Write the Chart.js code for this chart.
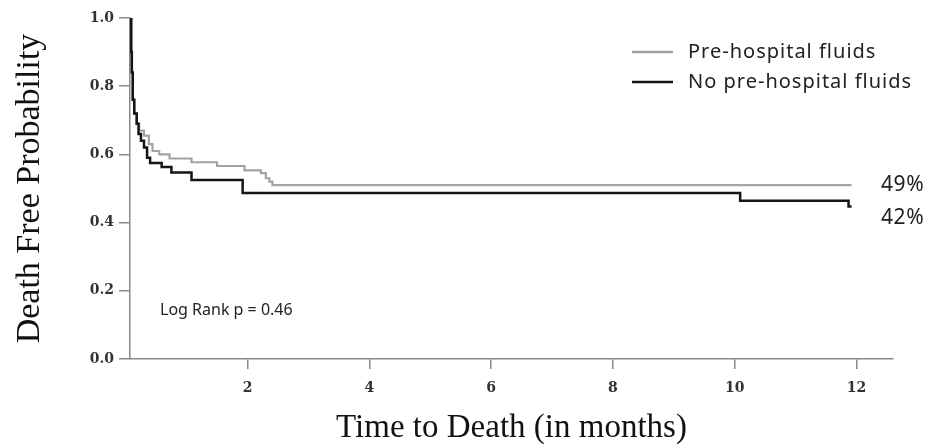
<!DOCTYPE html>
<html>
<head>
<meta charset="utf-8">
<script src="https://cdn.jsdelivr.net/npm/chart.js@4.4.1/dist/chart.umd.min.js"></script>
<style>
  html, body { margin: 0; padding: 0; background: #fff; }
  #wrap { width: 928px; height: 448px; }
</style>
</head>
<body>
<div id="wrap"><canvas id="kmChart" width="928" height="448"></canvas></div>
<script>
// --- DATA ---
const seriesLabels = ['Pre-hospital fluids', 'No pre-hospital fluids'];

// months / survival, step points
const fluidsMonths = [0.07, 0.09, 0.10, 0.115, 0.14, 0.18, 0.22, 0.30, 0.38, 0.44, 0.55, 0.72, 1.08, 1.50, 1.95, 2.22, 2.30, 2.36, 2.41, 11.92];
const fluidsSurv   = [1.00, 0.90, 0.84, 0.76, 0.72, 0.69, 0.67, 0.655, 0.63, 0.61, 0.60, 0.588, 0.577, 0.566, 0.553, 0.545, 0.53, 0.52, 0.51, 0.51];

const noFluidsMonths = [0.07, 0.09, 0.10, 0.115, 0.14, 0.18, 0.21, 0.25, 0.30, 0.35, 0.40, 0.59, 0.75, 1.08, 1.92, 10.09, 11.87, 11.92];
const noFluidsSurv   = [1.00, 0.90, 0.84, 0.76, 0.72, 0.69, 0.66, 0.64, 0.62, 0.59, 0.575, 0.563, 0.547, 0.525, 0.487, 0.464, 0.447, 0.447];

const xTicks = [2, 4, 6, 8, 10, 12];
const yTicks = [0, 0.2, 0.4, 0.6, 0.8, 1.0];
const endLabels = ['49%', '42%'];
const statText = 'Log Rank p = 0.46';

const toPoints = (xs, ys) => xs.map((x, i) => ({ x: x, y: ys[i] }));

// --- legend + annotations drawn on top ---
const extrasPlugin = {
    id: 'extras',
    afterDraw(chart) {
        const ctx = chart.ctx;
        ctx.save();
        ctx.textBaseline = 'middle';
        ctx.textAlign = 'left';
        ctx.fillStyle = '#222';

        // legend (line samples, no boxes)
        ctx.font = '20px "Noto Sans"';
        ctx.letterSpacing = '1px';
        const legendRows = [
            { label: seriesLabels[0], color: '#a3a3a3', y: 52 },
            { label: seriesLabels[1], color: '#151515', y: 82 }
        ];
        legendRows.forEach(r => {
            ctx.strokeStyle = r.color;
            ctx.lineWidth = 2.5;
            ctx.beginPath();
            ctx.moveTo(632, r.y);
            ctx.lineTo(673, r.y);
            ctx.stroke();
            ctx.fillText(r.label, 688, r.y);
        });

        // end-of-curve percentages
        ctx.letterSpacing = '0.6px';
        ctx.font = '21px "Noto Sans"';
        ctx.fillText(endLabels[0], 881, 185);
        ctx.fillText(endLabels[1], 881, 218);

        // test statistic
        ctx.letterSpacing = '0px';
        ctx.font = '16px "Noto Sans"';
        ctx.fillText(statText, 160, 310);
        ctx.restore();
    }
};

const kmCtx = document.getElementById('kmChart').getContext('2d');
new Chart(kmCtx, {
    type: 'line',
    data: {
        datasets: [{
            label: seriesLabels[1],
            data: toPoints(noFluidsMonths, noFluidsSurv),
            borderColor: '#151515',
            borderWidth: 2.5,
            pointRadius: 0,
            stepped: 'before',
            fill: false
        }, {
            label: seriesLabels[0],
            data: toPoints(fluidsMonths, fluidsSurv),
            borderColor: '#a3a3a3',
            borderWidth: 2.2,
            pointRadius: 0,
            stepped: 'before',
            fill: false
        }]
    },
    options: {
        responsive: false,
        animation: false,
        layout: { padding: { top: 18, right: 35, bottom: 0, left: 0 } },
        plugins: {
            legend: { display: false },
            tooltip: { enabled: false }
        },
        scales: {
            x: {
                type: 'linear',
                min: 0.07,
                max: 12.6,
                afterBuildTicks: s => { s.ticks = xTicks.map(v => ({ value: v })); },
                afterFit: s => { s.height = 89; },
                grid: { drawOnChartArea: false, drawTicks: true, tickLength: 10, color: '#8a8a8a', lineWidth: 1.5 },
                border: { display: true, color: '#8a8a8a', width: 1.5 },
                ticks: { color: '#333', padding: 11, font: { family: '"DejaVu Serif"', size: 14, weight: 'bold' } },
                title: {
                    display: true,
                    text: 'Time to Death (in months)',
                    color: '#111',
                    padding: { top: 0, bottom: 0 },
                    font: { family: '"Liberation Serif"', size: 33 }
                }
            },
            y: {
                min: 0,
                max: 1.0,
                afterBuildTicks: s => { s.ticks = yTicks.map(v => ({ value: v })); },
                afterFit: s => { s.width = 130; },
                grid: { drawOnChartArea: false, drawTicks: true, tickLength: 11, color: '#8a8a8a', lineWidth: 1.5 },
                border: { display: true, color: '#8a8a8a', width: 1.5 },
                ticks: {
                    color: '#333',
                    padding: 5,
                    font: { family: '"DejaVu Serif"', size: 14, weight: 'bold' },
                    callback: v => v.toFixed(1)
                },
                title: {
                    display: true,
                    text: 'Death Free Probability',
                    color: '#111',
                    padding: { top: 10, bottom: 0 },
                    font: { family: '"Liberation Serif"', size: 34 }
                }
            }
        }
    },
    plugins: [extrasPlugin]
});
</script>
</body>
</html>
